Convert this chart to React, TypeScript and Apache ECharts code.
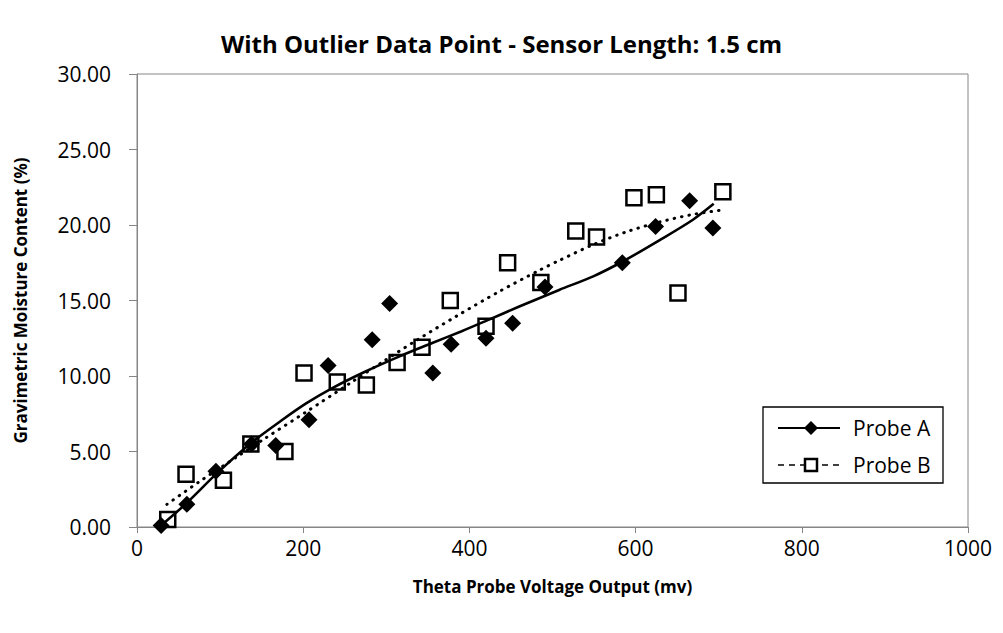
import React, { useEffect, useRef } from "react";
import * as echarts from "echarts";

const probeAX = [29, 60, 95, 138, 167, 207, 230, 283, 304, 356, 378, 420, 452, 491, 584, 624, 665, 693];
const probeAY = [0.1, 1.5, 3.7, 5.5, 5.4, 7.1, 10.7, 12.4, 14.8, 10.2, 12.1, 12.5, 13.5, 15.9, 17.5, 19.9, 21.6, 19.8];
const probeBX = [37, 59, 104, 137, 178, 201, 241, 276, 313, 343, 377, 420, 446, 486, 528, 553, 598, 625, 651, 705];
const probeBY = [0.5, 3.5, 3.1, 5.5, 5.0, 10.2, 9.6, 9.4, 10.9, 11.9, 15.0, 13.3, 17.5, 16.2, 19.6, 19.2, 21.8, 22.0, 15.5, 22.2];

const trendAX = [29, 59, 97, 137, 175, 204, 235, 275, 316, 356, 390, 420, 460, 508, 549, 585, 629, 669, 694];
const trendAY = [0.1, 1.55, 3.6, 5.55, 7.1, 8.2, 9.2, 10.3, 11.3, 12.2, 12.95, 13.65, 14.6, 15.7, 16.6, 17.6, 19.0, 20.35, 21.4];
const trendBX = [36, 75, 119, 155, 203, 260, 296, 336, 384, 436, 484, 508, 549, 589, 629, 669, 705];
const trendBY = [1.5, 3.0, 4.6, 5.9, 7.6, 9.65, 10.95, 12.35, 13.95, 15.6, 17.0, 17.65, 18.7, 19.55, 20.2, 20.7, 21.0];

const xTicks = { min: 0, max: 1000, interval: 200 };
const yTicks = { min: 0, max: 30, interval: 5 };

const titleText = "With Outlier Data Point - Sensor Length: 1.5 cm";
const xName = "Theta Probe Voltage Output (mv)";
const yName = "Gravimetric Moisture Content (%)";
const legendNames = ["Probe A", "Probe B"];

const zip = (xs: number[], ys: number[]) => xs.map((x, i) => [x, ys[i]]);

const FONT = "Open Sans";

export default function App() {
  const ref = useRef<HTMLDivElement>(null);
  useEffect(() => {
    if (!ref.current) return;
    const chart = echarts.init(ref.current, undefined, { renderer: "svg" });
    const lx = 763, ly = 407;
    chart.setOption({
      animation: false,
      backgroundColor: "#ffffff",
      title: {
        text: titleText,
        left: "center",
        top: 26,
        textStyle: { fontFamily: FONT, fontSize: 24, fontWeight: "bold", color: "#000" },
      },
      grid: {
        left: 137,
        right: 35,
        top: 74,
        bottom: 106,
        show: true,
        borderColor: "#868686",
        borderWidth: 1,
      },
      xAxis: {
        type: "value",
        ...xTicks,
        name: xName,
        nameLocation: "middle",
        nameGap: 51,
        nameTextStyle: { fontFamily: FONT, fontSize: 17, fontWeight: "bold", color: "#000" },
        axisLine: { show: true, lineStyle: { color: "#868686", width: 1 } },
        axisTick: { show: true, inside: false, length: 6, lineStyle: { color: "#868686" } },
        axisLabel: {
          fontFamily: FONT,
          fontSize: 21,
          color: "#000",
          margin: 10,
          formatter: (v: number) => String(v),
        },
        splitLine: { show: false },
      },
      yAxis: {
        type: "value",
        ...yTicks,
        name: yName,
        nameLocation: "middle",
        nameGap: 108,
        nameTextStyle: { fontFamily: FONT, fontSize: 17, fontWeight: "bold", color: "#000" },
        axisLine: { show: true, lineStyle: { color: "#868686", width: 1 } },
        axisTick: { show: true, inside: false, length: 8, lineStyle: { color: "#868686" } },
        axisLabel: {
          fontFamily: FONT,
          fontSize: 21,
          color: "#000",
          margin: 26,
          formatter: (v: number) => v.toFixed(2),
        },
        splitLine: { show: false },
      },
      series: [
        {
          name: "Probe A trend",
          type: "line",
          data: zip(trendAX, trendAY),
          smooth: 0.3,
          symbol: "none",
          lineStyle: { color: "#000", width: 2.6 },
          z: 2,
        },
        {
          name: "Probe B trend",
          type: "line",
          data: zip(trendBX, trendBY),
          smooth: 0.3,
          symbol: "none",
          lineStyle: { color: "#000", width: 3, type: [0.5, 7], cap: "round" },
          z: 2,
        },
        {
          name: legendNames[0],
          type: "scatter",
          data: zip(probeAX, probeAY),
          symbol: "diamond",
          symbolSize: 17,
          itemStyle: { color: "#000", opacity: 1 },
          z: 3,
        },
        {
          name: legendNames[1],
          type: "scatter",
          data: zip(probeBX, probeBY),
          symbol: "rect",
          symbolSize: 15,
          itemStyle: { color: "rgba(255,255,255,0)", borderColor: "#000", borderWidth: 2.5, opacity: 1 },
          z: 4,
        },
      ],
      graphic: [
        {
          type: "rect",
          shape: { x: lx, y: ly, width: 180, height: 76 },
          style: { fill: "#fff", stroke: "#000", lineWidth: 1.3 },
          z: 10,
        },
        {
          type: "line",
          shape: { x1: lx + 15, y1: ly + 21, x2: lx + 77, y2: ly + 21 },
          style: { stroke: "#000", lineWidth: 2 },
          z: 11,
        },
        {
          type: "polygon",
          shape: {
            points: [
              [lx + 48, ly + 14],
              [lx + 55, ly + 21],
              [lx + 48, ly + 28],
              [lx + 41, ly + 21],
            ],
          },
          style: { fill: "#000" },
          z: 12,
        },
        {
          type: "text",
          x: lx + 90,
          y: ly + 21,
          style: {
            text: legendNames[0],
            fontFamily: FONT,
            fontSize: 21,
            fill: "#000",
            verticalAlign: "middle",
          },
          z: 12,
        },
        {
          type: "line",
          shape: { x1: lx + 15, y1: ly + 58, x2: lx + 77, y2: ly + 58 },
          style: { stroke: "#000", lineWidth: 1.5, lineDash: [6, 5] },
          z: 11,
        },
        {
          type: "rect",
          shape: { x: lx + 42, y: ly + 52, width: 12, height: 12 },
          style: { fill: "#fff", stroke: "#000", lineWidth: 2.5 },
          z: 12,
        },
        {
          type: "text",
          x: lx + 90,
          y: ly + 58,
          style: {
            text: legendNames[1],
            fontFamily: FONT,
            fontSize: 21,
            fill: "#000",
            verticalAlign: "middle",
          },
          z: 12,
        },
      ],
    });
    return () => chart.dispose();
  }, []);
  return (
    <div
      ref={ref}
      style={{ position: "fixed", left: 0, top: 0, width: 1003, height: 633, background: "#fff" }}
    />
  );
}
